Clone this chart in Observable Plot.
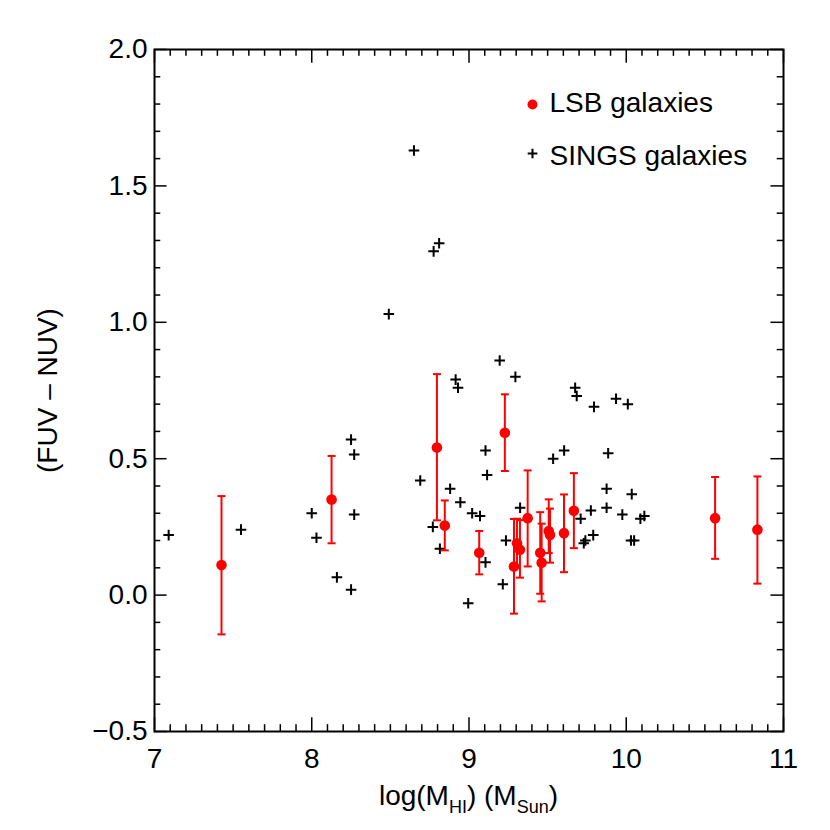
<!DOCTYPE html>
<html>
<head>
<meta charset="utf-8">
<script src="https://cdn.jsdelivr.net/npm/d3@7"></script>
<script src="https://cdn.jsdelivr.net/npm/@observablehq/plot@0.6"></script>
<style>
  html, body { margin: 0; padding: 0; background: #fff; }
  #chart { width: 830px; height: 830px; }
</style>
</head>
<body>
<div id="chart"></div>
<script>
// SINGS galaxies (black plus signs)
const singsX = [7.09, 7.55, 8.00, 8.03, 8.16, 8.25, 8.27, 8.27, 8.25, 8.49, 8.65, 8.775, 8.81, 8.69, 8.77, 8.815,
  8.915, 8.93, 8.88, 8.945, 9.02, 9.07, 8.995, 9.105, 9.115, 9.105, 9.195, 9.295, 9.235, 9.215, 9.325,
  9.675, 9.685, 9.795, 9.935, 10.01, 9.605, 9.535, 9.885, 9.71, 9.775, 9.875, 10.035, 9.875, 9.975,
  10.09, 10.115, 9.79, 9.74, 9.73, 10.03, 10.05];
const singsY = [0.22, 0.24, 0.30, 0.21, 0.065, 0.57, 0.515, 0.295, 0.02, 1.03, 1.63, 1.26, 1.29, 0.42, 0.25, 0.17,
  0.79, 0.76, 0.39, 0.34, 0.30, 0.29, -0.03, 0.53, 0.44, 0.12, 0.86, 0.80, 0.20, 0.04, 0.32,
  0.76, 0.73, 0.69, 0.72, 0.70, 0.53, 0.50, 0.52, 0.28, 0.31, 0.39, 0.37, 0.32, 0.295,
  0.28, 0.29, 0.22, 0.20, 0.19, 0.20, 0.20];

// LSB galaxies (red dots with error bars)
const lsbX  = [7.426, 8.126, 8.796, 8.846, 9.065, 9.228, 9.286, 9.305, 9.324, 9.373, 9.453, 9.462, 9.507, 9.515, 9.604, 9.667, 10.565, 10.834];
const lsbY  = [0.11, 0.35, 0.541, 0.255, 0.155, 0.595, 0.105, 0.19, 0.166, 0.282, 0.155, 0.119, 0.235, 0.22, 0.227, 0.309, 0.282, 0.240];
const lsbHi = [0.363, 0.51, 0.81, 0.347, 0.235, 0.736, 0.279, 0.28, 0.275, 0.457, 0.304, 0.262, 0.351, 0.317, 0.369, 0.447, 0.433, 0.435];
const lsbLo = [-0.144, 0.19, 0.274, 0.164, 0.076, 0.455, -0.068, 0.10, 0.064, 0.105, 0.005, -0.023, 0.154, 0.119, 0.084, 0.172, 0.133, 0.042];

// Axis ticks
const xMajor = [7, 8, 9, 10, 11];
const yMajor = [-0.5, 0.0, 0.5, 1.0, 1.5, 2.0];
const xMinor = d3.range(70, 111).map(d => d / 10).filter(d => !xMajor.includes(d));
const yMinor = d3.range(-5, 21).map(d => d / 10).filter(d => !yMajor.includes(d));

const legendLabels = ["LSB galaxies", "SINGS galaxies"];

const sings = singsX.map((x, i) => ({x, y: singsY[i]}));
const lsb = lsbX.map((x, i) => ({x, y: lsbY[i], hi: lsbHi[i], lo: lsbLo[i]}));

const W = 830, H = 830;
const mL = 154, mR = 47, mT = 49, mB = 99;
const iw = W - mL - mR, ih = H - mT - mB;
const RED = "#ff0000";
const FONT = "'Liberation Sans', Arial, Helvetica, sans-serif";
const FS = 28;

const plusSym = {draw(ctx, size) { const r = Math.sqrt(size / Math.PI); ctx.moveTo(-r, 0); ctx.lineTo(r, 0); ctx.moveTo(0, -r); ctx.lineTo(0, r); }};
const capSym = {draw(ctx, size) { const r = Math.sqrt(size / Math.PI); ctx.moveTo(-r, 0); ctx.lineTo(r, 0); }};

const xTL = 0.02 * ih, yTL = 0.02 * iw;

const svg = Plot.plot({
  width: W, height: H,
  marginLeft: mL, marginRight: mR, marginTop: mT, marginBottom: mB,
  style: {fontFamily: FONT, fontSize: FS + "px", background: "white", color: "black"},
  x: {domain: [7, 11], axis: null},
  y: {domain: [-0.5, 2.0], axis: null},
  marks: [
    // ticks (inward, on all four sides)
    Plot.tickX(xMajor, {x: d => d, insetTop: ih - xTL, stroke: "black", strokeWidth: 1.5}),
    Plot.tickX(xMajor, {x: d => d, insetBottom: ih - xTL, stroke: "black", strokeWidth: 1.5}),
    Plot.tickX(xMinor, {x: d => d, insetTop: ih - xTL / 2, stroke: "black", strokeWidth: 1.5}),
    Plot.tickX(xMinor, {x: d => d, insetBottom: ih - xTL / 2, stroke: "black", strokeWidth: 1.5}),
    Plot.tickY(yMajor, {y: d => d, insetRight: iw - yTL, stroke: "black", strokeWidth: 1.5}),
    Plot.tickY(yMajor, {y: d => d, insetLeft: iw - yTL, stroke: "black", strokeWidth: 1.5}),
    Plot.tickY(yMinor, {y: d => d, insetRight: iw - yTL / 2, stroke: "black", strokeWidth: 1.5}),
    Plot.tickY(yMinor, {y: d => d, insetLeft: iw - yTL / 2, stroke: "black", strokeWidth: 1.5}),
    Plot.frame({stroke: "black", strokeWidth: 2}),
    // tick labels
    Plot.axisX({ticks: xMajor, tickSize: 0, tickPadding: 17, tickFormat: d => String(d), fontSize: FS, label: null}),
    Plot.axisY({ticks: yMajor, tickSize: 0, tickPadding: 7, tickFormat: d3.format(".1f"), fontSize: FS, label: null}),
    // y-axis title
    Plot.text(["(FUV \u2013 NUV)"], {text: d => d, frameAnchor: "left", dx: 48 - mL, rotate: -90, textAnchor: "middle", lineAnchor: "middle", fontSize: FS}),
    // SINGS galaxies
    Plot.dot(sings, {x: "x", y: "y", symbol: plusSym, r: 5.3, stroke: "black", strokeWidth: 2, fill: "none"}),
    // LSB galaxies with error bars
    Plot.ruleX(lsb, {x: "x", y1: "lo", y2: "hi", stroke: RED, strokeWidth: 2}),
    Plot.dot(lsb, {x: "x", y: "hi", symbol: capSym, r: 4, stroke: RED, strokeWidth: 2}),
    Plot.dot(lsb, {x: "x", y: "lo", symbol: capSym, r: 4, stroke: RED, strokeWidth: 2}),
    Plot.dot(lsb, {x: "x", y: "y", r: 5.3, fill: RED, stroke: "none"}),
    // legend
    Plot.dot([0], {frameAnchor: "top-left", dx: 532 - mL, dy: 104 - mT, r: 5, fill: RED, stroke: "none"}),
    Plot.text([legendLabels[0]], {text: d => d, frameAnchor: "top-left", dx: 549 - mL, dy: 103 - mT, textAnchor: "start", lineAnchor: "middle", fontSize: FS}),
    Plot.dot([0], {frameAnchor: "top-left", dx: 532 - mL, dy: 153 - mT, symbol: plusSym, r: 4.8, stroke: "black", strokeWidth: 2, fill: "none"}),
    Plot.text([legendLabels[1]], {text: d => d, frameAnchor: "top-left", dx: 549 - mL, dy: 156 - mT, textAnchor: "start", lineAnchor: "middle", fontSize: FS})
  ]
});

// x-axis title with subscripts
const t = d3.select(svg).append("text")
  .attr("x", mL + iw / 2).attr("y", 805)
  .attr("text-anchor", "middle")
  .attr("fill", "black")
  .style("font-family", FONT).style("font-size", FS + "px");
t.append("tspan").text("log(M");
t.append("tspan").attr("dy", 8).style("font-size", "18px").text("HI");
t.append("tspan").attr("dy", -8).text(") (M");
t.append("tspan").attr("dy", 8).style("font-size", "18px").text("Sun");
t.append("tspan").attr("dy", -8).text(")");

document.getElementById("chart").appendChild(svg);
</script>
</body>
</html>
